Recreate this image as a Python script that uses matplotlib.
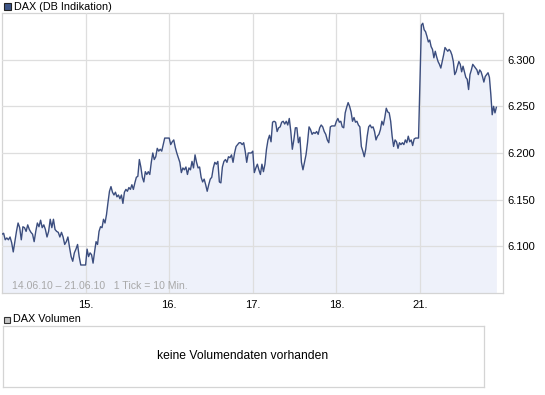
import numpy as np
import matplotlib
matplotlib.use("Agg")
import matplotlib.pyplot as plt
from matplotlib.patches import Rectangle

plt.rcParams['font.family'] = ['Liberation Sans', 'DejaVu Sans']

# DAX 10-Minuten-Kurse je Handelstag
day_labels = ["14.", "15.", "16.", "17.", "18.", "21."]
day14 = [6113, 6114, 6107, 6109, 6107, 6110, 6104, 6094, 6105, 6116, 6125, 6120, 6107,
         6121, 6120, 6116, 6123, 6118, 6115, 6113, 6105, 6116, 6125, 6121, 6128, 6120,
         6123, 6118, 6110, 6116, 6129, 6120, 6129, 6118, 6116, 6115, 6110, 6115, 6110,
         6102, 6105, 6110, 6099, 6089, 6084, 6093, 6097, 6102, 6089, 6080, 6080, 6080]
day15 = [6080, 6097, 6089, 6093, 6091, 6082, 6094, 6105, 6102, 6116, 6121, 6120, 6129,
         6125, 6134, 6147, 6159, 6164, 6158, 6155, 6158, 6153, 6155, 6151, 6155, 6146,
         6158, 6161, 6159, 6163, 6161, 6166, 6161, 6168, 6174, 6175, 6193, 6185, 6174,
         6169, 6180, 6177, 6180, 6177, 6190, 6200, 6193, 6196, 6205, 6202, 6204, 6202,
         6209, 6216, 6216, 6216]
day16 = [6216, 6209, 6212, 6214, 6206, 6200, 6195, 6190, 6179, 6184, 6182, 6185, 6177,
         6184, 6182, 6191, 6184, 6198, 6190, 6184, 6185, 6174, 6169, 6172, 6166, 6159,
         6166, 6172, 6174, 6184, 6190, 6188, 6191, 6169, 6168, 6185, 6191, 6193, 6190,
         6196, 6195, 6198, 6190, 6200, 6207, 6209, 6211, 6211, 6209, 6211, 6202, 6190,
         6200, 6200, 6200]
day17 = [6202, 6179, 6184, 6188, 6182, 6177, 6188, 6180, 6188, 6204, 6214, 6219, 6212,
         6233, 6234, 6233, 6223, 6227, 6228, 6233, 6234, 6231, 6234, 6230, 6237, 6223,
         6204, 6214, 6227, 6227, 6211, 6217, 6190, 6182, 6190, 6198, 6211, 6228, 6225,
         6220, 6222, 6221, 6223, 6220, 6227, 6230, 6228, 6223, 6220, 6214, 6211, 6228,
         6229, 6229, 6229]
day18 = [6234, 6237, 6233, 6234, 6228, 6227, 6243, 6249, 6254, 6250, 6244, 6234, 6238,
         6233, 6234, 6230, 6228, 6207, 6202, 6196, 6204, 6218, 6228, 6230, 6227, 6228,
         6223, 6214, 6218, 6220, 6225, 6234, 6230, 6238, 6248, 6244, 6243, 6234, 6218,
         6207, 6214, 6212, 6205, 6211, 6209, 6211, 6209, 6214, 6211, 6218, 6212, 6214,
         6208, 6215, 6216, 6216, 6216]
day21 = [6276, 6337, 6339, 6332, 6330, 6325, 6319, 6321, 6314, 6311, 6302, 6309, 6303,
         6298, 6295, 6291, 6298, 6305, 6313, 6311, 6309, 6311, 6309, 6305, 6298, 6284,
         6287, 6293, 6298, 6295, 6287, 6293, 6287, 6281, 6279, 6268, 6284, 6289, 6295,
         6293, 6291, 6289, 6284, 6289, 6287, 6282, 6276, 6282, 6284, 6286, 6281, 6263,
         6241, 6250, 6243, 6249]
days = [day14, day15, day16, day17, day18, day21]
# Anteil der Handelszeit, der je Tag abgedeckt ist (21.06. noch laufend)
session_cover = [1, 1, 1, 1, 1, 0.93]

y_ticks = [6100, 6150, 6200, 6250, 6300]

# x-Achse: ein Handelstag = eine Einheit
xs, ys = [], []
for k, (prices, cov) in enumerate(zip(days, session_cover)):
    n = len(prices)
    xs.extend(k + cov * np.arange(n) / n)
    ys.extend(prices)
xs = np.array(xs)
ys = np.array(ys)

W, H = 545, 395
fig = plt.figure(figsize=(W / 100, H / 100), dpi=100)

line_col = '#3b4d7e'
fill_col = '#eef1fa'
grid_col = '#dedede'
frame_col = '#d4d4d4'

# Kurs-Chart
ax = fig.add_axes([2 / W, (H - 293) / H, 501 / W, 280 / H])
ax.fill_between(xs, ys, 6000, color=fill_col, lw=0, zorder=0.5)
ax.plot(xs, ys, color=line_col, lw=1.0, zorder=3)
ax.set_xlim(0, 501 / 83.6)
ax.set_ylim(6050, 6350)
ax.set_xticks(range(1, 6))
ax.set_xticklabels(day_labels[1:])
ax.set_yticks(y_ticks)
ax.set_yticklabels([f"{v:,.0f}".replace(',', '.') for v in y_ticks])
ax.yaxis.tick_right()
ax.tick_params(length=0, labelsize=8, colors='black')
ax.tick_params(axis='y', pad=3)
ax.tick_params(axis='x', pad=5)
ax.set_axisbelow(False)
ax.grid(True, color=grid_col, lw=0.9, zorder=2.5)
for s in ax.spines.values():
    s.set_color(frame_col)
    s.set_linewidth(0.9)
ax.text(10 / 501, 7 / 280, "14.06.10 \u2013 21.06.10   1 Tick = 10 Min.",
        transform=ax.transAxes, fontsize=7.6, color='#a8a8a8', va='center', ha='left')

# Legendenkästchen + Titel
fig.add_artist(Rectangle((4 / W, (H - 10) / H), 7 / W, 7 / H, transform=fig.transFigure,
                         facecolor='#3e5587', edgecolor='#222222', lw=0.8))
fig.text(14 / W, (H - 6.5) / H, "DAX (DB Indikation)", fontsize=7.8, va='center', ha='left')

fig.add_artist(Rectangle((3.5 / W, (H - 323) / H), 6 / W, 6 / H, transform=fig.transFigure,
                         facecolor='#c4c4c4', edgecolor='#333333', lw=0.8))
fig.text(13 / W, (H - 319.5) / H, "DAX Volumen", fontsize=7.8, va='center', ha='left')

# Volumen-Panel (leer)
ax2 = fig.add_axes([2.5 / W, (H - 386.5) / H, 481 / W, 60.5 / H])
ax2.set_xticks([])
ax2.set_yticks([])
for s in ax2.spines.values():
    s.set_color(frame_col)
    s.set_linewidth(0.9)
ax2.text(0.5, 0.5, "keine Volumendaten vorhanden", transform=ax2.transAxes,
         fontsize=8.7, ha='center', va='center')

plt.savefig("out.png", dpi=100)
